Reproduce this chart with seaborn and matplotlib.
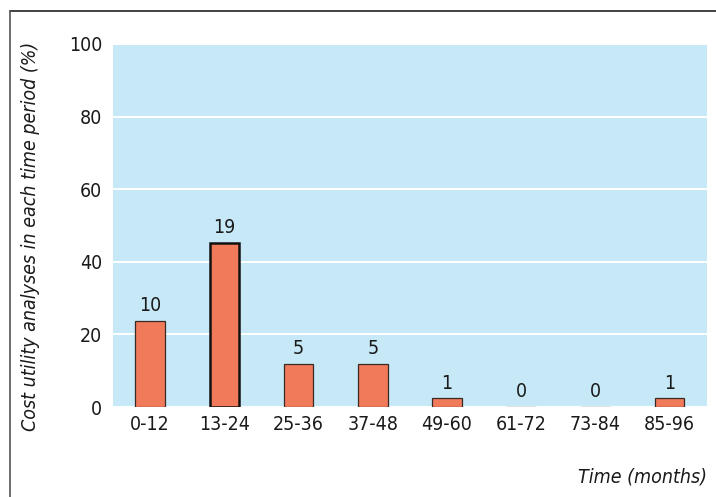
import matplotlib
matplotlib.use("Agg")
import matplotlib.pyplot as plt
import matplotlib.lines as mlines
import seaborn as sns
import pandas as pd

periods = ["0-12", "13-24", "25-36", "37-48", "49-60", "61-72", "73-84", "85-96"]
counts = [10, 19, 5, 5, 1, 0, 0, 1]
percent = [23.8, 45.2, 11.9, 11.9, 2.4, 0.0, 0.0, 2.4]
y_ticks = [0, 20, 40, 60, 80, 100]

df = pd.DataFrame({"period": periods, "percent": percent, "count": counts})

sns.set_theme(style="white")
plt.rcParams["font.family"] = ["DejaVu Sans"]
plt.rcParams["font.stretch"] = "condensed"

fig = plt.figure(figsize=(7.16, 4.97), dpi=100)
ax = fig.add_axes([0.158, 0.181, 0.829, 0.7305])

bar_color = "#F07A5A"
sns.barplot(data=df, x="period", y="percent", ax=ax, color=bar_color,
            width=0.4, saturation=1, edgecolor="#3a2a25", linewidth=0.9, zorder=3)
# the tallest bar carries a heavier outline
tallest = df["percent"].idxmax()
ax.patches[tallest].set_linewidth(1.8)
ax.patches[tallest].set_edgecolor("#111111")

ax.set_facecolor("#C6E8F7")
ax.set_ylim(0, 100)
ax.set_xlim(-0.5, len(periods) - 0.5)
ax.set_yticks(y_ticks)
ax.yaxis.grid(True, color="white", linewidth=1.4, zorder=1)
ax.set_axisbelow(True)
for s in ax.spines.values():
    s.set_visible(False)
ax.tick_params(axis="both", length=0, labelsize=14, colors="#1a1a1a")
ax.tick_params(axis="x", pad=6)
ax.tick_params(axis="y", pad=8)
ax.set_xlabel("")
ax.set_ylabel("")

for i, (p, c) in enumerate(zip(percent, counts)):
    ax.annotate(str(c), (i, p), xytext=(0, 4), textcoords="offset points",
                ha="center", va="bottom", fontsize=14, color="#1a1a1a")

fig.text(0.042, 0.525, "Cost utility analyses in each time period (%)", rotation=90,
         ha="center", va="center", fontsize=14, style="italic", color="#1a1a1a")
fig.text(0.987, 0.04, "Time (months)", ha="right", va="center", fontsize=14,
         style="italic", color="#1a1a1a")

# outer frame along the top and left edges
fig.add_artist(mlines.Line2D([0.014, 1.0], [0.978, 0.978], color="#222222", linewidth=1.2,
                             transform=fig.transFigure))
fig.add_artist(mlines.Line2D([0.014, 0.014], [0.0, 0.978], color="#555555", linewidth=1.2,
                             transform=fig.transFigure))

fig.savefig("out.png", dpi=100)
